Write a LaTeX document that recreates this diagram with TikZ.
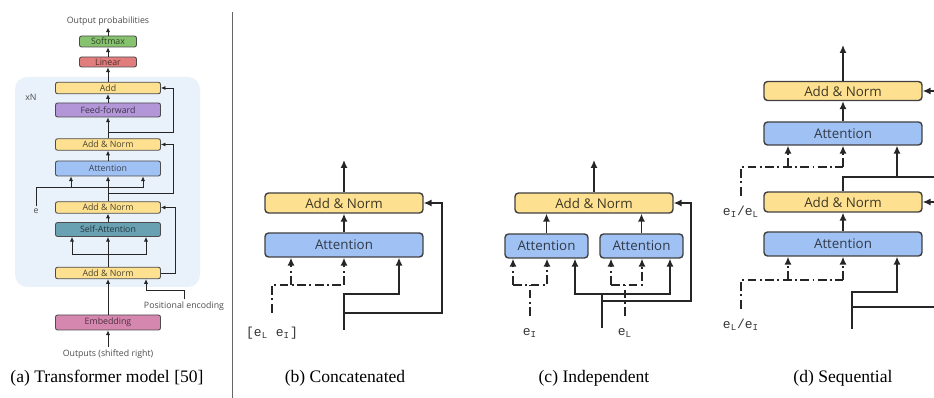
\documentclass[tikz,border=0pt]{standalone}
\usepackage{fontspec}
\setmainfont{Liberation Serif}
\setmonofont{Liberation Mono}
\newfontfamily\boxfont{Open Sans}
\usetikzlibrary{arrows.meta}
\definecolor{sunflower}{RGB}{253,225,145}
\definecolor{cornflower}{RGB}{160,193,243}
\definecolor{leaf}{RGB}{135,194,110}
\definecolor{salmon}{RGB}{226,125,125}
\definecolor{lavender}{RGB}{178,150,215}
\definecolor{seateal}{RGB}{105,160,178}
\definecolor{rosepink}{RGB}{214,135,175}
\definecolor{paleblue}{RGB}{233,241,250}
\tikzset{
  blk/.style={draw=black!75, rounded corners=2pt, line width=0.8pt, inner sep=0pt, font=\boxfont\fontsize{7.6}{9}\selectfont},
  addnorm/.style={blk, fill=sunflower, text=sunflower!25!black, minimum width=3.16cm, minimum height=0.4cm},
  attn/.style={blk, fill=cornflower, text=cornflower!30!black, minimum height=0.48cm},
  minibox/.style={draw=black!70, rounded corners=1.2pt, line width=0.5pt, inner sep=0pt, minimum width=2.1cm, minimum height=0.23cm, font=\boxfont\fontsize{5}{6}\selectfont},
  note/.style={inner sep=1pt, text=black!70, font=\boxfont\fontsize{5}{6}\selectfont},
  emb/.style={inner sep=1pt, text=black!80, font=\ttfamily\fontsize{7.4}{9}\selectfont},
  captxt/.style={inner sep=1pt, font=\fontsize{10}{12}\selectfont},
  arr/.style={line width=0.8pt, black!85, -{Latex[length=4.5pt,width=4pt]}},
  ln/.style={line width=0.8pt, black!85},
  dd/.style={line width=0.8pt, black!85, dash pattern=on 5pt off 2pt on 1pt off 2pt},
  sarr/.style={line width=0.5pt, black!85, -{Latex[length=2.6pt,width=2.4pt]}},
  sln/.style={line width=0.5pt, black!85}
}
\newcommand{\sub}[1]{\textsubscript{#1}}
\begin{document}
\begin{tikzpicture}[x=0.02cm, y=-0.02cm]
\useasboundingbox (0,0) rectangle (934,398);
% (a)
\fill[paleblue, rounded corners=2.4mm] (15,77) rectangle (200,287);
\node[note] (xnA) at (31,97) {xN};
\node[minibox, fill=leaf, text=leaf!35!black, minimum width=1.14cm, minimum height=0.22cm] (softA) at (108,41.5) {Softmax};
\node[minibox, fill=salmon, text=salmon!35!black, minimum width=1.14cm, minimum height=0.2cm] (linA) at (108,62) {Linear};
\node[minibox, fill=sunflower, text=sunflower!30!black] (addA) at (108,88) {Add};
\node[minibox, fill=lavender, text=lavender!35!black, minimum height=0.28cm] (ffA) at (108,110) {Feed-forward};
\node[minibox, fill=sunflower, text=sunflower!30!black] (an1A) at (108,144.5) {Add \& Norm};
\node[minibox, fill=cornflower, text=cornflower!35!black, minimum height=0.3cm] (attA) at (108,168.5) {Attention};
\node[minibox, fill=sunflower, text=sunflower!30!black] (an2A) at (108,207.5) {Add \& Norm};
\node[minibox, fill=seateal, text=seateal!35!black, minimum height=0.28cm] (saA) at (108,229.5) {Self-Attention};
\node[minibox, fill=sunflower, text=sunflower!30!black] (an3A) at (108,273) {Add \& Norm};
\node[minibox, fill=rosepink, text=rosepink!35!black, minimum height=0.3cm] (embA) at (108,322.5) {Embedding};
\node[note] (outpA) at (108,21) {Output probabilities};
\node[note] (outsA) at (108,354) {Outputs (shifted right)};
\node[note] (posA) at (184,306) {Positional encoding};
\node[note] (eA) at (36,211) {e};
\coordinate (brA1) at (108,132);
\coordinate (brA2) at (108,193);
\draw[sarr] (softA.north) -- (outpA.south);
\draw[sarr] (linA.north) -- (softA.south);
\draw[sarr] (addA.north) -- (linA.south);
\draw[sarr] (ffA.north) -- (addA.south);
\draw[sarr] (an1A.north) -- (ffA.south);
\draw[sarr] (brA1) -| (173,88) -- (addA.east);
\draw[sarr] (attA.north) -- (an1A.south);
\draw[sarr] (an2A.north) -- (attA.south);
\draw[sarr] (brA2) -| (173,144.5) -- (an1A.east);
\draw[sarr] (eA.north) |- (143,187) -- (143,187 |- attA.south);
\draw[sarr] (71,187) -- (71,187 |- attA.south);
\draw[sarr] (saA.north) -- (an2A.south);
\draw[sarr] (an3A.north) -- (saA.south);
\draw[sarr] (72,254) -- (72,254 |- saA.south);
\draw[sarr] (72,254) -- (146,254) -- (146,254 |- saA.south);
\draw[sarr] (an3A.east) -| (175,207.5) -- (an2A.east);
\draw[sarr] (posA.north) |- (146,290) -- (146,290 |- an3A.south);
\draw[sarr] (outsA.north) -- (embA.south);
\draw[sarr] (embA.north) -- (an3A.south);
\node[captxt] (capA) at (107,378) {(a) Transformer model [50]};
\draw[black!60, line width=0.5pt] (232,12) -- (232,398);
% (b)
\node[addnorm] (anB) at (344,203) {Add \& Norm};
\node[attn, minimum width=3.16cm] (attB) at (344,245) {Attention};
\node[emb] (eB) at (272,333) {[e\sub{L} e\sub{I}]};
\coordinate (outB) at (344,160);
\coordinate (inB) at (344,330);
\draw[arr] (anB.north) -- (outB);
\draw[arr] (attB.north) -- (anB.south);
\draw[dd, shorten <=7pt] (eB.north) |- (344,285);
\draw[dd, arr] (291,285) -- (291,285 |- attB.south);
\draw[dd, arr] (344,285) -- (attB.south);
\draw[arr] (inB) |- (399,294) -- (399,294 |- attB.south);
\draw[arr] (344,313) -| (442,203) -- (anB.east);
\node[captxt] (capB) at (345,378) {(b) Concatenated};
% (c)
\node[addnorm] (anC) at (594,203) {Add \& Norm};
\node[attn, minimum width=1.66cm] (att1C) at (546.5,246) {Attention};
\node[attn, minimum width=1.66cm] (att2C) at (641.5,246) {Attention};
\node[emb] (eIC) at (530,333) {e\sub{I}};
\node[emb] (eLC) at (625,333) {e\sub{L}};
\coordinate (outC) at (594,160);
\coordinate (inC) at (602,328);
\draw[arr] (anC.north) -- (outC);
\draw[arr] (att1C.north) -- (att1C.north |- anC.south);
\draw[arr] (att2C.north) -- (att2C.north |- anC.south);
\draw[dd, shorten <=6pt] (eIC.north) -- (530,285);
\draw[dd, arr] (513,285) -- (513,285 |- att1C.south);
\draw[dd, arr] (513,285) -- (547,285) -- (547,285 |- att1C.south);
\draw[dd, shorten <=6pt] (eLC.north) -- (625,285);
\draw[dd, arr] (611,285) -- (611,285 |- att2C.south);
\draw[dd, arr] (611,285) -- (642,285) -- (642,285 |- att2C.south);
\draw[ln] (inC) -- (602,294);
\draw[arr] (602,294) -- (575,294) -- (575,294 |- att1C.south);
\draw[arr] (602,294) -- (670,294) -- (670,294 |- att2C.south);
\draw[arr] (602,301) -| (691,203) -- (anC.east);
\node[captxt] (capC) at (594,378) {(c) Independent};
% (d)
\node[addnorm, minimum height=0.38cm] (anD1) at (843,91) {Add \& Norm};
\node[attn, minimum width=3.16cm, minimum height=0.46cm] (attD1) at (843,133.5) {Attention};
\node[addnorm] (anD2) at (843,202) {Add \& Norm};
\node[attn, minimum width=3.16cm] (attD2) at (843,244) {Attention};
\node[emb] (eD1) at (741,212) {e\sub{I}/e\sub{L}};
\node[emb] (eD2) at (741,325) {e\sub{L}/e\sub{I}};
\coordinate (outD) at (843,45);
\coordinate (rD1) at (934,91);
\coordinate (rD2) at (934,177);
\coordinate (rD3) at (934,202);
\coordinate (rD4) at (934,307);
\coordinate (inD) at (852,329);
\draw[arr] (anD1.north) -- (outD);
\draw[arr] (attD1.north) -- (anD1.south);
\draw[arr] (rD1) -- (anD1.east);
\draw[dd, shorten <=5pt] (eD1.north) |- (843,167);
\draw[dd, arr] (788,167) -- (788,167 |- attD1.south);
\draw[dd, arr] (843,167) -- (attD1.south);
\draw[ln] (anD2.north) |- (rD2);
\draw[arr] (897,177) -- (897,177 |- attD1.south);
\draw[arr] (rD3) -- (anD2.east);
\draw[arr] (attD2.north) -- (anD2.south);
\draw[dd, shorten <=5pt] (eD2.north) |- (843,280);
\draw[dd, arr] (788,280) -- (788,280 |- attD2.south);
\draw[dd, arr] (843,280) -- (attD2.south);
\draw[arr] (inD) |- (897,292) -- (897,292 |- attD2.south);
\draw[ln] (852,307) -- (rD4);
\node[captxt] (capD) at (843,378) {(d) Sequential};
\end{tikzpicture}
\end{document}
